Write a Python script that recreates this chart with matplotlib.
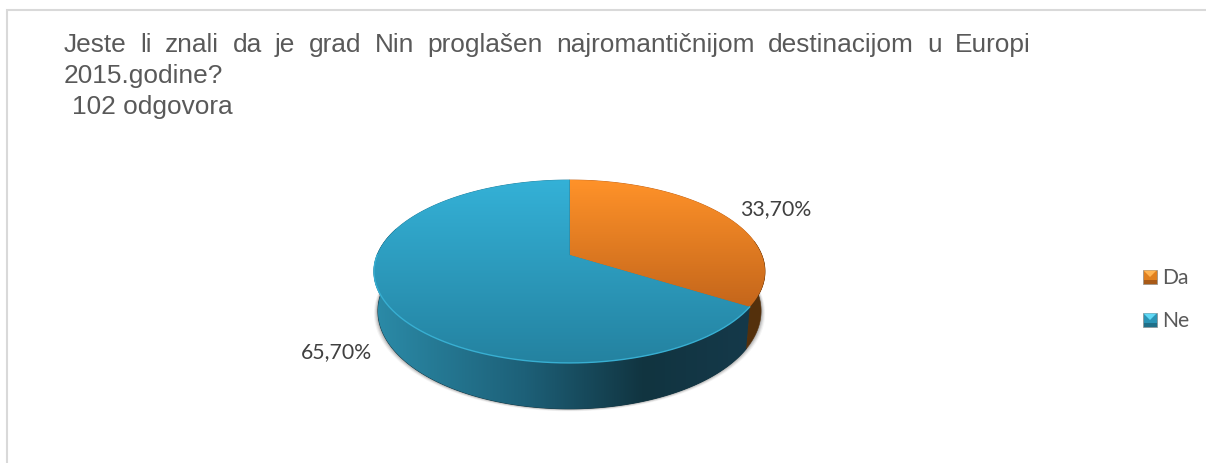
import numpy as np
import matplotlib
matplotlib.use("Agg")
import matplotlib.pyplot as plt
from matplotlib.patches import Polygon, Rectangle
from matplotlib.colors import LinearSegmentedColormap

# chart data
title_line1 = "Jeste li znali da je grad Nin proglašen najromantičnijom destinacijom u Europi"
title_line2 = "2015.godine?"
title_line3 = "102 odgovora"
categories = ["Da", "Ne"]
values = [33.70, 65.70]
value_labels = ["33,70%", "65,70%"]

TEXT = "#595959"


def project(t):
    # tilted pie: t is the clockwise angle from 12 o'clock, centre sits above the middle
    u, v = np.sin(t), -np.cos(t)
    d = 1 - 0.18 * v
    return 569.5 + 192.3 * u / d, 255 + 88.5 * v / d


def project_low(t):
    # lower rim of the pie, slightly narrower and pushed down
    x, y = project(t)
    return 569.5 + (x - 569.5) * 0.98, 255 + (y - 255) * 1.07 + 38.4


def fill_gradient(ax, poly, colors, stops, horizontal=False):
    # imshow clipped to the polygon, to get the office-style shading
    cmap = LinearSegmentedColormap.from_list("g", list(zip(stops, colors)))
    grad = np.linspace(0, 1, 256).reshape(1, -1) if horizontal else np.linspace(0, 1, 256).reshape(-1, 1)
    xs, ys = poly[:, 0], poly[:, 1]
    # solid layer below, hides the hairline between clipped images
    ax.add_patch(Polygon(poly, closed=True, fc=colors[len(colors) // 2], ec=colors[len(colors) // 2], lw=0.6, zorder=2.9))
    im = ax.imshow(grad, cmap=cmap, aspect="auto", interpolation="bilinear",
                   extent=(xs.min(), xs.max(), ys.max(), ys.min()), zorder=3)
    patch = Polygon(poly, closed=True, transform=ax.transData, fc="none", ec="none")
    ax.add_patch(patch)
    im.set_clip_path(patch)


def side_poly(t):
    x1, y1 = project(t)
    x2, y2 = project_low(t)
    return np.column_stack([np.r_[x1, x2[::-1]], np.r_[y1, y2[::-1]]])


fig = plt.figure(figsize=(12.06, 4.63), dpi=100)
ax = fig.add_axes([0, 0, 1, 1])
ax.axis("off")

# frame
ax.plot([7, 7, 1206], [463, 10, 10], color="#D9D9D9", lw=1.5, solid_joinstyle="miter")

# title, first line is justified so each word gets its own slot
words = title_line1.split()
renderer = fig.canvas.get_renderer()
items = [ax.text(0, 52, w, fontsize=18.9, family="Liberation Sans", color=TEXT, va="baseline") for w in words]
widths = [i.get_window_extent(renderer).width for i in items]
gap = (1031 - 64 - sum(widths)) / (len(words) - 1)
pos = 64
for item, w in zip(items, widths):
    item.set_x(pos)
    pos += w + gap
ax.text(64, 83, title_line2, fontsize=18.9, family="Liberation Sans", color=TEXT, va="baseline")
ax.text(72, 114, title_line3, fontsize=18.9, family="Liberation Sans", color=TEXT, va="baseline")

# angle where the two slices meet
split = 2 * np.pi * values[0] / sum(values)
t_front = np.linspace(np.pi * 0.45, split, 60)
t_blue = np.linspace(split, np.pi * 1.6, 240)

# soft shadow under the pie
t_all = np.linspace(np.pi * 0.4, np.pi * 1.6, 200)
for grow, a in zip([4.0, 3.0, 2.0, 1.0], [0.06, 0.10, 0.14, 0.18]):
    x, y = project_low(t_all)
    x = 569.5 + (x - 569.5) * (1 + grow / 192)
    ax.add_patch(Polygon(np.column_stack([x, y + grow * 0.6]), closed=True, fc="#444444", ec="none", alpha=a, zorder=2))

# pie side
ax.add_patch(Polygon(side_poly(t_front), closed=True, fc="#54300C", ec="#54300C", lw=0.4, zorder=3))
fill_gradient(ax, side_poly(t_blue), ["#2B8BA8", "#1D6078", "#113440", "#15394A"], [0, 0.4, 0.72, 1], horizontal=True)

# top faces
x, y = project(np.linspace(0, split, 200))
top_da = np.column_stack([np.r_[569.5, x], np.r_[255, y]])
x, y = project(np.linspace(split, 2 * np.pi, 400))
top_ne = np.column_stack([np.r_[569.5, x], np.r_[255, y]])
fill_gradient(ax, top_da, ["#FF9229", "#C4661B"], [0, 1])
fill_gradient(ax, top_ne, ["#34B1D7", "#2482A0"], [0, 1])

# light rim on the front edge
x, y = project(np.linspace(split, np.pi * 1.5, 200))
ax.plot(x, y, color="#38AFD2", lw=1.0, zorder=4)

# value labels
ax.text(775.5, 209, value_labels[0], fontsize=15.3, family="Lato", color="#404040", ha="center", va="center", zorder=5)
ax.text(336.5, 352, value_labels[1], fontsize=15.3, family="Lato", color="#404040", ha="center", va="center", zorder=5)

# legend
for name, yc, c_top, c_mid, c_low in [(categories[0], 277, "#FFB452", "#E0801F", "#A85A17"),
                                     (categories[1], 320, "#5FD8F5", "#2A94B5", "#1F6F88")]:
    ax.add_patch(Rectangle((1143, yc - 7), 14, 14, fc=c_mid, ec="#8A8A8A", lw=0.5, zorder=4))
    ax.add_patch(Polygon([(1143.5, yc - 6.5), (1156.5, yc - 6.5), (1150, yc)], closed=True, fc=c_top, ec="none", zorder=5))
    ax.add_patch(Rectangle((1143.5, yc + 3), 13, 3.5, fc=c_low, ec="none", zorder=5))
    ax.text(1162, yc + 1, name, fontsize=15.2, family="Lato", color=TEXT, ha="left", va="center", zorder=5)

ax.set_xlim(0, 1206)
ax.set_ylim(463, 0)
fig.savefig("out.png", dpi=100)
